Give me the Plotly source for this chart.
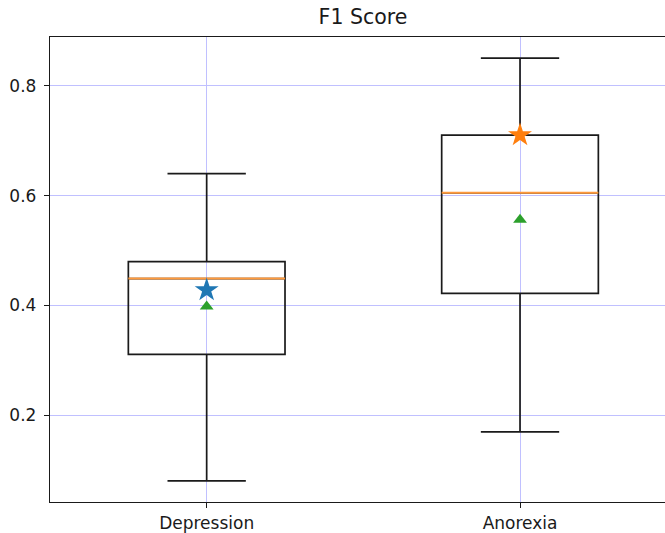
import plotly.graph_objects as go

categories = ["Depression", "Anorexia"]
positions = [1, 2]
lower_whisker = [0.081, 0.170]
q1 = [0.311, 0.422]
median = [0.449, 0.605]
q3 = [0.480, 0.710]
upper_whisker = [0.640, 0.850]
star_values = [0.428, 0.710]
mean_values = [0.398, 0.556]
star_colors = ["#1f77b4", "#ff7f0e"]
y_ticks = [0.2, 0.4, 0.6, 0.8]
y_tick_labels = ["0.2", "0.4", "0.6", "0.8"]

box_width = 0.5

fig = go.Figure()

fig.add_trace(go.Box(
    x=positions,
    q1=q1,
    median=median,
    q3=q3,
    lowerfence=lower_whisker,
    upperfence=upper_whisker,
    width=box_width,
    whiskerwidth=0.5,
    fillcolor="rgba(0,0,0,0)",
    line=dict(color="#1a1a1a", width=1.7),
    boxpoints=False,
    showlegend=False,
    hoverinfo="skip",
))

med_x, med_y = [], []
for p, m in zip(positions, median):
    med_x += [p - box_width / 2, p + box_width / 2, None]
    med_y += [m, m, None]
fig.add_trace(go.Scatter(
    x=med_x, y=med_y, mode="lines",
    line=dict(color="#ff9a3c", width=2),
    showlegend=False, hoverinfo="skip",
))

fig.add_trace(go.Scatter(
    x=positions, y=mean_values, mode="markers",
    marker=dict(symbol="triangle-up", color="#2ca02c", size=12, line=dict(width=0)),
    showlegend=False, hoverinfo="skip",
))

fig.add_trace(go.Scatter(
    x=positions, y=star_values, mode="markers",
    marker=dict(symbol="star", color=star_colors, size=18, line=dict(width=0)),
    showlegend=False, hoverinfo="skip",
))

fig.update_layout(
    width=665, height=533,
    margin=dict(l=50, r=0, t=37, b=31),
    paper_bgcolor="white", plot_bgcolor="white",
    font=dict(family="DejaVu Sans", size=17, color="#1a1a1a"),
    title=dict(text="F1 Score", x=363 / 665, xanchor="center", xref="container",
               y=1 - 17 / 533, yanchor="middle", yref="container",
               font=dict(size=20.5, color="#1a1a1a")),
)
fig.update_xaxes(
    range=[0.5, 2.4627], tickvals=positions, ticktext=categories,
    showline=True, mirror=True, linecolor="#1a1a1a", linewidth=1.4,
    ticks="outside", ticklen=5, tickcolor="#1a1a1a", tickwidth=1.4,
    showgrid=True, gridcolor="#c0c0ff", gridwidth=1,
    zeroline=False,
)
fig.update_yaxes(
    range=[0.0425, 0.8885], tickvals=y_ticks, ticktext=y_tick_labels,
    showline=True, mirror=False, linecolor="#1a1a1a", linewidth=1.4,
    ticks="outside", ticklen=5, tickcolor="#1a1a1a", tickwidth=1.4,
    ticklabelstandoff=4,
    showgrid=True, gridcolor="#c0c0ff", gridwidth=1,
    zeroline=False,
)

fig.write_html("out.html")
